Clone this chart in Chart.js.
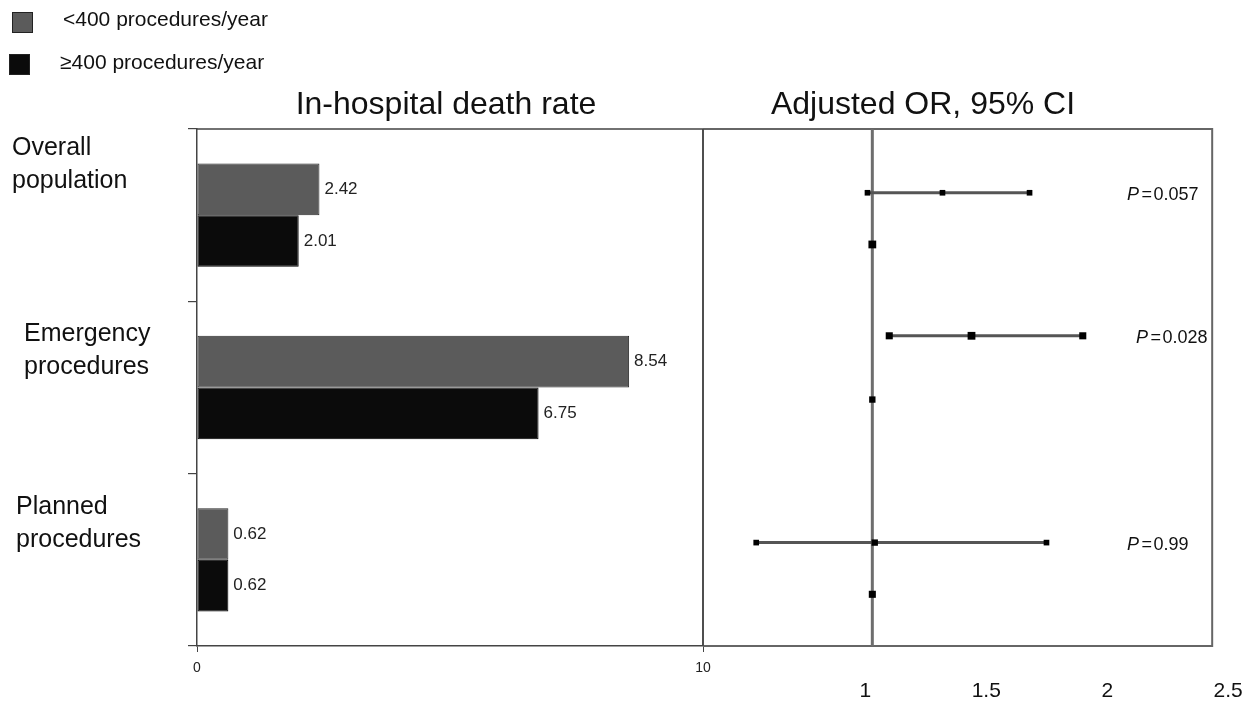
<!DOCTYPE html>
<html><head><meta charset="utf-8">
<script src="https://cdn.jsdelivr.net/npm/chart.js@4"></script>
<style>
html,body{margin:0;padding:0;background:#fff;width:1255px;height:701px;overflow:hidden;}
#c1{position:absolute;left:0;top:0;}
#c2{position:absolute;left:690px;top:0;}
</style></head><body>
<canvas id="c1" width="720" height="701"></canvas>
<canvas id="c2" width="565" height="701"></canvas>
<script>
// ---------- data ----------
const categories = [["Overall", "population"], ["Emergency", "procedures"], ["Planned", "procedures"]];
const seriesNames = ["<400 procedures/year", "\u2265400 procedures/year"];
const deathRateLow = [2.42, 8.54, 0.62];    // <400 procedures/year
const deathRateHigh = [2.01, 6.75, 0.62];   // >=400 procedures/year
const rateTicks = [0, 10];
const orEstimate = [1.29, 1.41, 1.01];
const orLower = [0.98, 1.07, 0.52];
const orUpper = [1.65, 1.87, 1.72];
const orReference = [1, 1, 1];
const pValues = ["0.057", "0.028", "0.99"];
const orTicks = [1, 1.5, 2, 2.5];
const orRowPos = [0.37, 1.2, 2.4];     // row position of the CI lines (category units)
const refRowPos = [0.67, 1.57, 2.7];   // row position of the reference squares

// ---------- styles ----------
const FONT = "'Liberation Sans', Arial, Helvetica, sans-serif";
const GREY = '#5b5b5b', BLACK = '#0b0b0b', FRAME = '#444';
const catLabelDx = [12, 24, 16], catLabelDy = [-67, -53, -53], catLineH = 33;

const leftDecor = {
  id: 'leftDecor',
  afterDraw(chart) {
    const ctx = chart.ctx, a = chart.chartArea;
    const ys = chart.scales.y;
    ctx.save();
    // frame top + right
    ctx.strokeStyle = FRAME; ctx.lineWidth = 1.5;
    ctx.beginPath();
    ctx.moveTo(a.left, a.top); ctx.lineTo(a.right, a.top); ctx.lineTo(a.right, a.bottom);
    ctx.stroke();
    // value labels
    ctx.font = '17px ' + FONT; ctx.fillStyle = '#222';
    ctx.textAlign = 'left'; ctx.textBaseline = 'middle';
    chart.data.datasets.forEach((ds, di) => {
      chart.getDatasetMeta(di).data.forEach((el, i) => {
        ctx.fillText(ds.data[i].toFixed(2), el.x + 5, el.y);
      });
    });
    // category labels
    ctx.font = '25px ' + FONT; ctx.fillStyle = '#111';
    categories.forEach((lines, i) => {
      const y0 = ys.getPixelForValue(i) + catLabelDy[i];
      lines.forEach((t, k) => ctx.fillText(t, catLabelDx[i], y0 + k * catLineH));
    });
    // title
    ctx.font = '32px ' + FONT; ctx.textAlign = 'center'; ctx.textBaseline = 'alphabetic';
    ctx.fillText('In-hospital death rate', a.left + 249, 114);
    // legend
    const sq = [[12, 12], [9, 54]];
    const tx = [[63, 20], [60, 63]];
    ctx.font = '21px ' + FONT; ctx.textAlign = 'left'; ctx.textBaseline = 'middle';
    chart.data.datasets.forEach((ds, i) => {
      ctx.fillStyle = ds.backgroundColor; ctx.fillRect(sq[i][0], sq[i][1], 21, 21);
      ctx.strokeStyle = '#222'; ctx.lineWidth = 1; ctx.strokeRect(sq[i][0] + 0.5, sq[i][1] + 0.5, 20, 20);
      ctx.fillStyle = '#111'; ctx.fillText(ds.label, tx[i][0], tx[i][1]);
    });
    ctx.restore();
  }
};

new Chart(document.getElementById('c1'), {
  type: 'bar',
  data: {
    labels: categories.map(c => c.join(' ')),
    datasets: [
      { label: seriesNames[0], data: deathRateLow, backgroundColor: GREY, borderColor: '#2a2a2a', borderWidth: 1, borderSkipped: false, categoryPercentage: 0.6, barPercentage: 1 },
      { label: seriesNames[1], data: deathRateHigh, backgroundColor: BLACK, borderColor: '#000', borderWidth: 1, borderSkipped: false, categoryPercentage: 0.6, barPercentage: 1 }
    ]
  },
  options: {
    indexAxis: 'y', responsive: false, animation: false,
    layout: { padding: { top: 129, right: 17, left: 0, bottom: 0 } },
    plugins: { legend: { display: false }, tooltip: { enabled: false }, title: { display: false } },
    scales: {
      x: {
        min: 0, max: 10,
        afterBuildTicks: s => { s.ticks = rateTicks.map(v => ({ value: v })); },
        afterFit: s => { s.height = 55; s.paddingLeft = 0; s.paddingRight = 0; },
        grid: { drawOnChartArea: false, tickLength: 6, color: FRAME, lineWidth: 1 },
        border: { color: FRAME, width: 1.5 },
        ticks: { font: { family: FONT, size: 14 }, color: '#222', padding: 8, maxRotation: 0 }
      },
      y: {
        afterFit: s => { s.width = 197; },
        ticks: { display: false },
        grid: { drawOnChartArea: false, tickLength: 9, color: FRAME, offset: true, lineWidth: 1.2 },
        border: { color: FRAME, width: 1.5 }
      }
    }
  },
  plugins: [leftDecor]
});

// ---------- right panel: forest plot ----------
const PANEL_RIGHT = 2.405;   // x value where the panel frame closes
const pLabelDx = [424, 433, 424];

const rightDecor = {
  id: 'rightDecor',
  beforeDatasetsDraw(chart) {
    const ctx = chart.ctx, a = chart.chartArea, xs = chart.scales.x;
    const r = xs.getPixelForValue(PANEL_RIGHT);
    ctx.save();
    ctx.strokeStyle = '#666'; ctx.lineWidth = 2;
    ctx.beginPath();
    ctx.moveTo(a.left, a.top); ctx.lineTo(r, a.top); ctx.lineTo(r, a.bottom); ctx.lineTo(a.left, a.bottom);
    ctx.stroke();
    ctx.strokeStyle = FRAME; ctx.lineWidth = 1.5;
    ctx.beginPath(); ctx.moveTo(a.left, a.top); ctx.lineTo(a.left, a.bottom); ctx.stroke();
    ctx.restore();
  },
  afterDraw(chart) {
    const ctx = chart.ctx, a = chart.chartArea, ys = chart.scales.y;
    ctx.save();
    ctx.fillStyle = '#111';
    ctx.font = '32px ' + FONT; ctx.textAlign = 'center'; ctx.textBaseline = 'alphabetic';
    ctx.fillText('Adjusted OR, 95% CI', a.left + 220, 114);
    ctx.textAlign = 'left'; ctx.textBaseline = 'middle';
    pValues.forEach((p, i) => {
      const x = a.left + pLabelDx[i], y = ys.getPixelForValue(orRowPos[i]) + 2;
      ctx.font = 'italic 18px ' + FONT;
      ctx.fillText('P', x, y);
      const w = ctx.measureText('P').width;
      ctx.font = '18px ' + FONT;
      ctx.fillText('\u200A=\u200A' + p, x + w + 1, y);
    });
    ctx.restore();
  }
};

const rightDatasets = [
  { type: 'line', order: 3, data: [{ x: 1, y: -0.015 }, { x: 1, y: 3 }], borderColor: '#6e6e6e', borderWidth: 3, pointRadius: 0 }
];
orEstimate.forEach((est, i) => {
  rightDatasets.push({
    type: 'line', order: 2,
    data: [{ x: orLower[i], y: orRowPos[i] }, { x: orUpper[i], y: orRowPos[i] }],
    borderColor: '#555', borderWidth: 3,
    pointStyle: 'rect', pointRadius: i === 1 ? 5 : 4, pointBackgroundColor: '#000', pointBorderWidth: 0
  });
});
rightDatasets.push({
  type: 'scatter', order: 1,
  data: orEstimate.map((v, i) => ({ x: v, y: orRowPos[i] })),
  pointStyle: 'rect', pointRadius: [4, 5.5, 4.5], backgroundColor: '#000', pointBorderWidth: 0
});
rightDatasets.push({
  type: 'scatter', order: 1,
  data: orReference.map((v, i) => ({ x: v, y: refRowPos[i] })),
  pointStyle: 'rect', pointRadius: [5.5, 4.5, 5], backgroundColor: '#000', pointBorderWidth: 0
});

new Chart(document.getElementById('c2'), {
  type: 'scatter',
  data: { datasets: rightDatasets },
  options: {
    responsive: false, animation: false,
    layout: { padding: { top: 129, left: 13, right: 15, bottom: 0 } },
    plugins: { legend: { display: false }, tooltip: { enabled: false } },
    elements: { line: { tension: 0 } },
    scales: {
      x: {
        type: 'linear', min: 0.3, max: 2.52,
        afterBuildTicks: s => { s.ticks = orTicks.map(v => ({ value: v })); },
        afterFit: s => { s.height = 55; s.paddingLeft = 0; s.paddingRight = 0; },
        grid: { display: false, drawTicks: false },
        border: { display: false },
        ticks: { font: { family: FONT, size: 21 }, color: '#111', padding: 33, labelOffset: -7, maxRotation: 0, callback: v => String(v) }
      },
      y: { type: 'linear', min: 0, max: 3, reverse: true, display: false }
    }
  },
  plugins: [rightDecor]
});
</script>
</body></html>
